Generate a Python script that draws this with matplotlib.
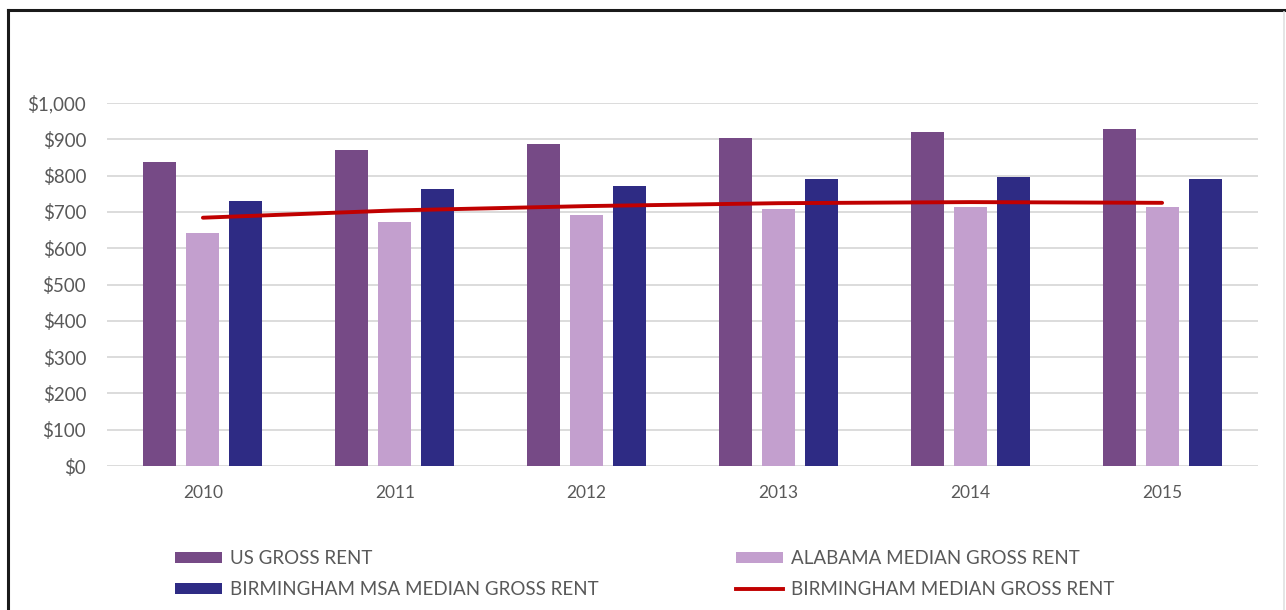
import numpy as np
import matplotlib
matplotlib.use("Agg")
import matplotlib.pyplot as plt
from matplotlib.lines import Line2D
from matplotlib.ticker import FuncFormatter

# data
years = ["2010", "2011", "2012", "2013", "2014", "2015"]
us_gross_rent = [838, 870, 887, 904, 920, 927]
alabama_median = [642, 671, 691, 707, 714, 714]
msa_median = [731, 763, 772, 792, 796, 792]
birmingham_median = [684, 704, 716, 724, 727, 725]

labels = ["US GROSS RENT", "ALABAMA MEDIAN GROSS RENT",
          "BIRMINGHAM MSA MEDIAN GROSS RENT", "BIRMINGHAM MEDIAN GROSS RENT"]
colors = ["#764a86", "#c39fce", "#2e2b84", "#c00000"]

plt.rcParams['font.family'] = ['Lato', 'DejaVu Sans']

fig = plt.figure(figsize=(12.86, 6.10), dpi=100)
ax = fig.add_axes([107 / 1286, 144 / 610, 1151 / 1286, 363 / 610])

x = np.arange(len(years))
w = 0.172
off = 0.224
b1 = ax.bar(x - off, us_gross_rent, w, color=colors[0], zorder=3)
b2 = ax.bar(x, alabama_median, w, color=colors[1], zorder=3)
b3 = ax.bar(x + off, msa_median, w, color=colors[2], zorder=3)
ln, = ax.plot(x, birmingham_median, color=colors[3], lw=2.8, zorder=4,
              solid_capstyle='round')

ax.set_xlim(-0.5, len(years) - 0.5)
ax.set_ylim(0, 1000)
ax.set_yticks(np.arange(0, 1001, 100))
ax.yaxis.set_major_formatter(FuncFormatter(lambda v, p: "${:,.0f}".format(v)))
ax.set_xticks(x)
ax.set_xticklabels(years)
ax.grid(axis='y', color='#d9d9d9', lw=1.3, zorder=0)
for s in ax.spines.values():
    s.set_visible(False)
ax.tick_params(length=0, labelsize=12.5, labelcolor='#595959')
ax.tick_params(axis='y', pad=15, labelsize=13.5)
ax.tick_params(axis='x', pad=14)

handles = [b1, b3, b2, Line2D([], [], color=colors[3], lw=2.8)]
leg_labels = [labels[0], labels[2], labels[1], labels[3]]
fig.legend(handles, leg_labels, ncol=2, loc='upper left',
           bbox_to_anchor=(158 / 1286, 1 - 533 / 610), frameon=False,
           fontsize=13.5, labelcolor='#595959', handlelength=2.5,
           handleheight=0.55, handletextpad=0.45, columnspacing=7.3,
           labelspacing=0.75)

# outer frame (cropped at the right and bottom)
fig.add_artist(Line2D([8 / 1286, 8 / 1286], [0, 1 - 10 / 610],
                      transform=fig.transFigure, color='#1a1a1a', lw=2.2))
fig.add_artist(Line2D([8 / 1286, 1], [1 - 10 / 610, 1 - 10 / 610],
                      transform=fig.transFigure, color='#1a1a1a', lw=2.2))
fig.add_artist(Line2D([1284 / 1286, 1284 / 1286], [0, 1 - 12 / 610],
                      transform=fig.transFigure, color='#e0e0e0', lw=1.2))

fig.savefig("out.png", dpi=100)
